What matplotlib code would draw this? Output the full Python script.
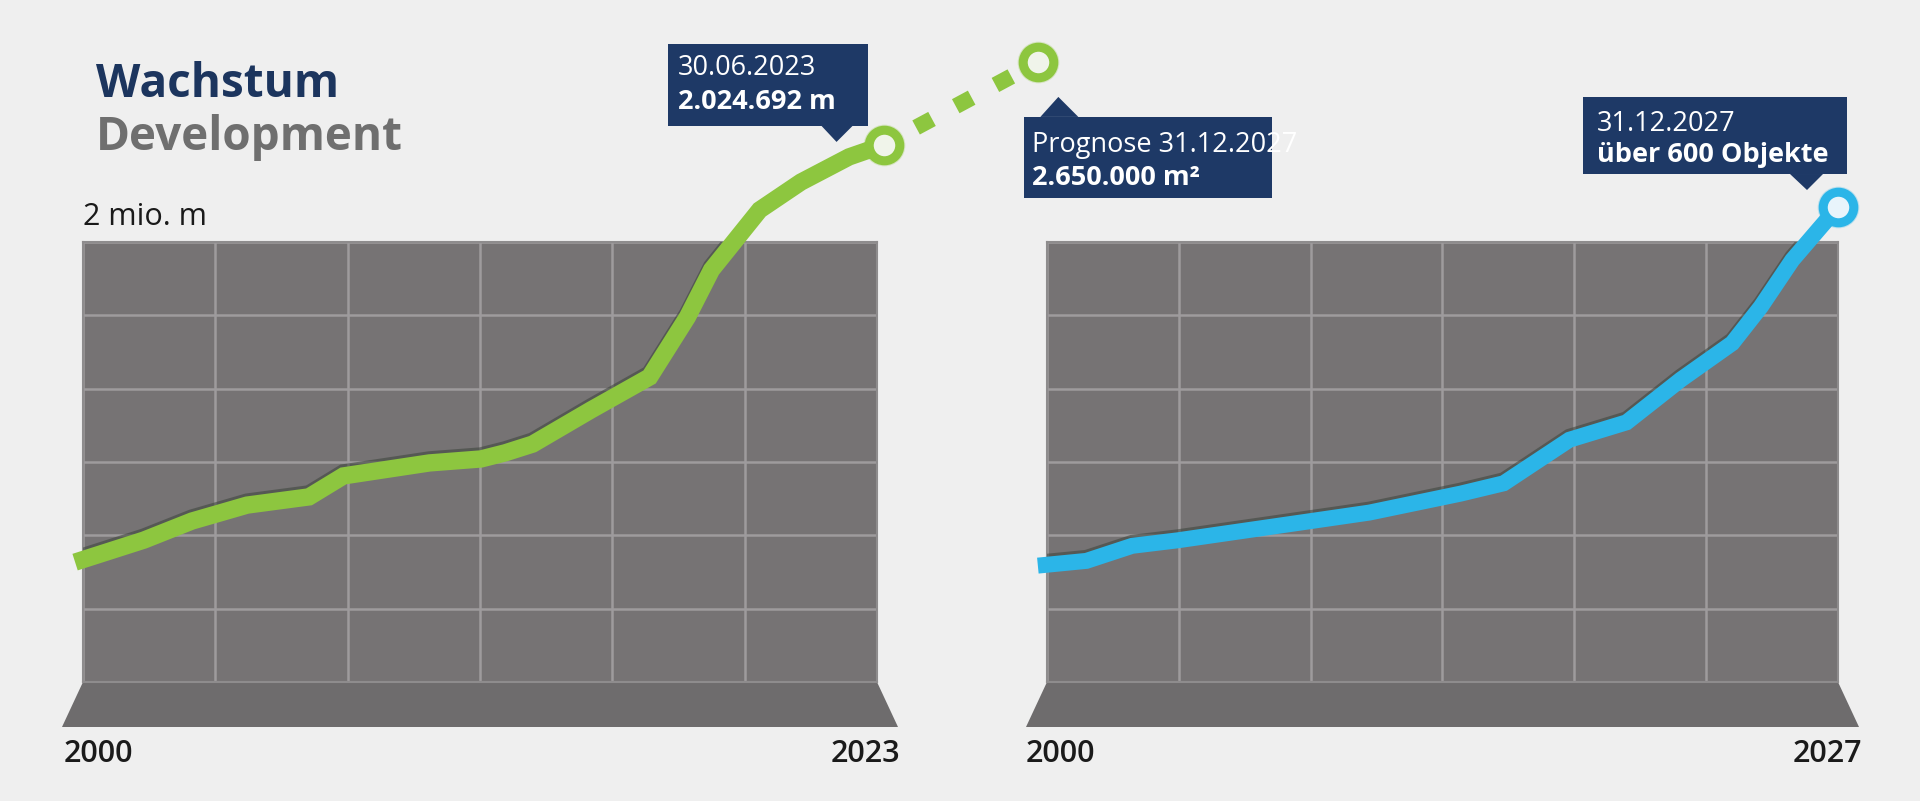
import matplotlib
matplotlib.use("Agg")
import matplotlib.pyplot as plt
import matplotlib.transforms as mtransforms
from matplotlib.patches import Polygon

plt.rcParams['font.family'] = ['Open Sans', 'DejaVu Sans']
plt.rcParams['lines.scale_dashes'] = False

# --- data ---
# floor area, million m (left panel)
area_years = [2000.0, 2002.0, 2003.4, 2005.0, 2006.8, 2007.8, 2010.3, 2011.8, 2012.5,
              2013.3, 2015.0, 2016.7, 2017.8, 2018.5, 2019.9, 2021.1, 2022.5, 2023.5]
area_mio = [0.452, 0.535, 0.607, 0.667, 0.698, 0.777, 0.826, 0.841, 0.864,
            0.897, 1.026, 1.150, 1.376, 1.554, 1.780, 1.885, 1.980, 2.025]
forecast_years = [2023.5, 2028.0]
forecast_mio = [2.025, 2.338]

# number of objects (right panel)
obj_years = [2000.0, 2001.7, 2003.3, 2004.9, 2009.5, 2011.6, 2014.8, 2016.3,
             2018.6, 2020.6, 2022.5, 2024.3, 2025.3, 2026.4, 2027.4, 2028.0]
obj_count = [147, 153, 172, 179, 203, 214, 238, 251,
             306, 328, 382, 428, 474, 533, 575, 600]

left_labels = ["2000", "2023"]
right_labels = ["2000", "2027"]

BG = '#efefef'
BOX = '#767374'
BASE = '#6e6c6d'
GRID = '#9e9b9d'
GREEN = '#8dc63f'
BLUE = '#2bb5e8'
NAVY = '#1e3966'

W, H = 1920, 801
fig = plt.figure(figsize=(W / 100, H / 100), dpi=100, facecolor=BG)
PIX = mtransforms.IdentityTransform()


def fx(x):
    return x / W


def fy(y):
    return 1 - y / H


def make_panel(left, width, xlim, ylim):
    ax = fig.add_axes([fx(left), fy(682), width / W, 440 / H])
    ax.set_facecolor(BOX)
    ax.set_xlim(*xlim)
    ax.set_ylim(*ylim)
    xs = [xlim[0] + i * (xlim[1] - xlim[0]) / 6 for i in range(7)]
    ys = [ylim[0] + i * (ylim[1] - ylim[0]) / 6 for i in range(7)]
    ax.set_xticks(xs)
    ax.set_yticks(ys)
    ax.tick_params(length=0, labelbottom=False, labelleft=False)
    ax.grid(True, color=GRID, lw=1.8)
    for s in ax.spines.values():
        s.set_color('#8e8c8d')
        s.set_linewidth(1.5)
    # floor of the box
    ox = 21 / width
    oy = 45 / 440
    ax.add_patch(Polygon([(0, 0), (1, 0), (1 + ox, -oy), (-ox, -oy)], closed=True,
                         transform=ax.transAxes, facecolor=BASE, edgecolor='none',
                         clip_on=False, zorder=0))
    return ax


def draw_line(ax, x, y, color, lw):
    shadow = mtransforms.ScaledTranslation(0, 3 / 100, fig.dpi_scale_trans)
    ax.plot(x, y, color='#3b423a', lw=lw, alpha=0.55, solid_joinstyle='miter',
            transform=ax.transData + shadow, zorder=3)
    ax.plot(x, y, color=color, lw=lw, solid_joinstyle='miter', solid_capstyle='butt',
            clip_on=False, zorder=4)


def end_marker(ax, x, y, color, face):
    ax.plot([x], [y], 'o', ms=30, color=color, alpha=0.25, mew=0, clip_on=False, zorder=5)
    ax.plot([x], [y], 'o', ms=22, mfc=face, mec=color, mew=6.5, clip_on=False, zorder=6)


def callout(ax, x, y, box, tip, base, pos, lines):
    X, Y = ax.transData.transform((x, y))

    def P(dx, dy):
        return (X + dx, Y - dy)

    x0, y0, x1, y1 = box
    fig.add_artist(Polygon([P(x0, y0), P(x1, y0), P(x1, y1), P(x0, y1)], closed=True,
                           transform=PIX, facecolor=NAVY, edgecolor='none', zorder=7))
    b0, b1, by = base
    fig.add_artist(Polygon([P(b0, by), P(b1, by), P(*tip)], closed=True,
                           transform=PIX, facecolor=NAVY, edgecolor='none', zorder=7))
    tx = pos[0]
    for (txt, weight), dy in zip(lines, pos[1:]):
        px, py = P(tx, dy)
        fig.text(px, py, txt, transform=PIX, color='white', fontsize=19.5,
                 fontweight=weight, va='baseline', ha='left', zorder=8)


# left panel: area
ax1 = make_panel(83, 794, (2000.23, 2023.31), (0, 1.659))
draw_line(ax1, area_years, area_mio, GREEN, 12.5)
ax1.plot(forecast_years, forecast_mio, color=GREEN, lw=11.5,
         linestyle=(5.8, (13.0, 19.4)), dash_capstyle='butt', clip_on=False, zorder=4)
end_marker(ax1, area_years[-1], area_mio[-1], GREEN, '#f0f4ea')
end_marker(ax1, forecast_years[-1], forecast_mio[-1], GREEN, '#f0f4ea')
callout(ax1, area_years[-1], area_mio[-1], (-216, -101, -16, -19), (-47, -3),
        (-62, -31, -19), (-206, -70, -36),
        [("30.06.2023", 'normal'), ("2.024.692 m", 'bold')])
callout(ax1, forecast_years[-1], forecast_mio[-1], (-14, 55, 234, 136), (20, 35),
        (2, 40, 55), (-6, 90, 123),
        [("Prognose 31.12.2027", 'normal'), ("2.650.000 m²", 'bold')])

# right panel: objects
ax2 = make_panel(1047, 791, (2000.32, 2028.0), (0, 555.8))
draw_line(ax2, obj_years, obj_count, BLUE, 11.5)
end_marker(ax2, obj_years[-1], obj_count[-1], BLUE, '#e8f4fb')
callout(ax2, obj_years[-1], obj_count[-1], (-255, -110, 9, -33), (-31, -17),
        (-48, -15, -33), (-241, -76, -45),
        [("31.12.2027", 'normal'), ("über 600 Objekte", 'bold')])

# headings and labels
fig.text(fx(96), fy(97), "Wachstum", fontsize=33, fontweight='bold', color='#1c355e',
         va='baseline')
fig.text(fx(96), fy(150), "Development", fontsize=33, fontweight='bold', color='#6f6f6f',
         va='baseline')
fig.text(fx(83), fy(225), "2 mio. m", fontsize=22, color='#1a1a1a', va='baseline')

fig.text(fx(64), fy(762), left_labels[0], fontsize=22, fontweight='semibold',
         color='#1a1a1a', va='baseline', ha='left')
fig.text(fx(900), fy(762), left_labels[1], fontsize=22, fontweight='semibold',
         color='#1a1a1a', va='baseline', ha='right')
fig.text(fx(1026), fy(762), right_labels[0], fontsize=22, fontweight='semibold',
         color='#1a1a1a', va='baseline', ha='left')
fig.text(fx(1862), fy(762), right_labels[1], fontsize=22, fontweight='semibold',
         color='#1a1a1a', va='baseline', ha='right')

fig.savefig("out.png", dpi=100, facecolor=BG)
